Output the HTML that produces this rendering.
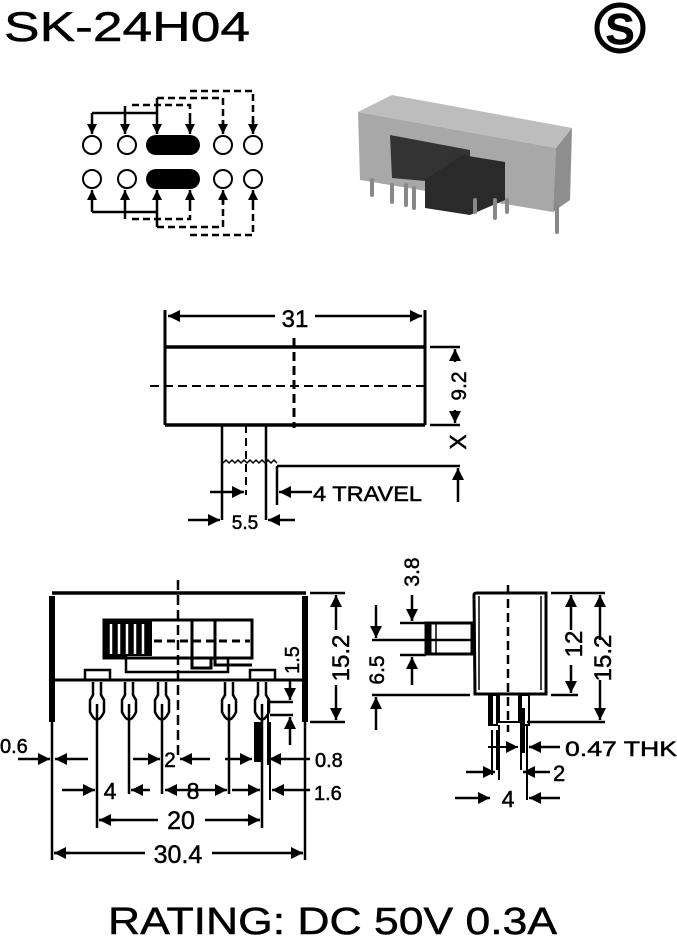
<!DOCTYPE html>
<html><head><meta charset="utf-8"><style>
html,body{margin:0;padding:0;background:#fff}
svg{display:block}
text{font-family:"Liberation Sans",Arial,sans-serif;fill:#000;stroke:#000;stroke-width:0.5}
</style></head><body>
<svg width="677" height="940" viewBox="0 0 677 940" xmlns="http://www.w3.org/2000/svg">
<defs>
<marker id="a" viewBox="0 0 10 10" refX="10" refY="5" markerWidth="10" markerHeight="10" markerUnits="userSpaceOnUse" orient="auto-start-reverse">
<path d="M0,0L10,5L0,10z" fill="#000"/></marker>
<marker id="b" viewBox="0 0 10 10" refX="10" refY="5" markerWidth="12" markerHeight="12" markerUnits="userSpaceOnUse" orient="auto-start-reverse">
<path d="M0,0L10,5L0,10z" fill="#000"/></marker>
</defs>
<!-- title -->
<text x="4" y="41" font-size="42" textLength="246" lengthAdjust="spacingAndGlyphs">SK-24H04</text>
<circle cx="620" cy="28" r="23" fill="none" stroke="#000" stroke-width="5"/>
<text x="620" y="44" font-size="44" font-weight="bold" text-anchor="middle">S</text>

<!-- schematic -->
<g fill="none" stroke="#000" stroke-width="2">
<circle cx="92" cy="145" r="9"/><circle cx="127" cy="145" r="9"/>
<circle cx="223" cy="145" r="9"/><circle cx="253" cy="145" r="9"/>
<circle cx="92" cy="179" r="9"/><circle cx="127" cy="179" r="9"/>
<circle cx="223" cy="179" r="9"/><circle cx="253" cy="179" r="9"/>
</g>
<rect x="146" y="135" width="54" height="20" rx="10" fill="#000"/>
<rect x="146" y="169" width="54" height="20" rx="10" fill="#000"/>
<g stroke="#000" stroke-width="2.5" fill="none">
<path d="M92,113H157"/><path d="M92,113V134" marker-end="url(#a)"/>
<path d="M125,106V134" marker-end="url(#a)"/>
<path d="M157,98V134" marker-end="url(#a)"/>
<path d="M92,212H157"/><path d="M92,212V190" marker-end="url(#a)"/>
<path d="M125,219V190" marker-end="url(#a)"/>
<path d="M157,227V190" marker-end="url(#a)"/>
<g stroke-dasharray="7,4">
<path d="M132,105H190V125"/><path d="M157,98H223V125"/><path d="M190,91H253V125"/>
<path d="M132,219H190V200"/><path d="M157,227H223V200"/><path d="M190,235H253V200"/>
</g>
<path d="M190,120V134" marker-end="url(#a)"/><path d="M223,120V134" marker-end="url(#a)"/><path d="M253,120V134" marker-end="url(#a)"/>
<path d="M190,204V190" marker-end="url(#a)"/><path d="M223,204V190" marker-end="url(#a)"/><path d="M253,204V190" marker-end="url(#a)"/>
</g>

<!-- photo -->
<g>
<polygon points="358,112 392,95 572,128 556,148" fill="#bdbdbd"/>
<polygon points="358,112 556,148 553,212 360,180" fill="#a8a8a8"/>
<polygon points="556,148 572,128 570,200 553,212" fill="#8e8e8e"/>
<polygon points="390,135 470,150 470,185 392,178" fill="#333"/>
<polygon points="425,180 462,155 505,162 505,200 470,215 425,208" fill="#2a2a2a"/>
<g stroke="#888" stroke-width="4" stroke-linecap="round">
<path d="M372,180V195"/><path d="M392,185V202"/><path d="M406,185V205"/><path d="M414,188V208"/>
<path d="M475,200V212"/><path d="M495,200V218"/><path d="M507,200V212"/><path d="M557,205V232"/>
</g>
</g>

<!-- top view -->
<g stroke="#000" fill="none">
<path d="M165,310V425M425,310V425" stroke-width="3"/>
<path d="M165,347H425M165,425H425" stroke-width="3.5"/>
<path d="M170,316H275M315,316H420" stroke-width="2.5"/>
<path d="M180,316H168" stroke-width="2.5" marker-end="url(#b)"/>
<path d="M410,316H422" stroke-width="2.5" marker-end="url(#b)"/>
<path d="M150,386H430" stroke-width="2" stroke-dasharray="9,5"/>
<path d="M294,338V428" stroke-width="3" stroke-dasharray="9,5"/>
<path d="M222,425V520M266,425V520" stroke-width="2.5"/>
<path d="M246,425V495" stroke-width="2" stroke-dasharray="8,5"/>
<path d="M223,463l3,-3 3,3 3,-3 3,3 3,-3 3,3 3,-3 3,3 3,-3 3,3 3,-3 3,3 3,-3 3,3 3,-3 3,3 3,-3 3,3" stroke-width="1.5"/>
<path d="M277,466H460M277,466V505" stroke-width="2.5"/>
<path d="M430,347H460M430,425H460" stroke-width="2.5"/>
<path d="M455,362V349" stroke-width="2.5" marker-end="url(#b)"/>
<path d="M455,410V423" stroke-width="2.5" marker-end="url(#b)"/>
<path d="M458,502V468" stroke-width="2.5" marker-end="url(#b)"/>
<path d="M312,492H279" stroke-width="2.5" marker-end="url(#b)"/>
<path d="M210,492H244" stroke-width="2.5" marker-end="url(#b)"/>
<path d="M188,520H220" stroke-width="2.5" marker-end="url(#b)"/>
<path d="M295,520H268" stroke-width="2.5" marker-end="url(#b)"/>
</g>
<text x="295" y="327" font-size="24" text-anchor="middle">31</text>
<text transform="translate(466,386) rotate(-90)" font-size="21" text-anchor="middle">9.2</text>
<text transform="translate(466,442) rotate(-90)" font-size="23" text-anchor="middle">X</text>
<text x="313" y="501" font-size="21" textLength="109" lengthAdjust="spacingAndGlyphs">4 TRAVEL</text>
<text x="245" y="529" font-size="19" text-anchor="middle">5.5</text>

<!-- front view -->
<g stroke="#000" fill="none">
<path d="M52,593H306" stroke-width="3.5"/>
<path d="M52,596V722M305,596V722" stroke-width="6"/>
<path d="M52,680H305" stroke-width="3"/>
<rect x="104" y="620" width="148" height="38" stroke-width="3"/>
<rect x="104" y="620" width="48" height="36" fill="#000" stroke-width="0"/>
<path d="M111,624V654M119,624V654M127,624V654M135,624V654M143,624V654" stroke="#fff" stroke-width="2.5"/>
<path d="M192,621V668H211V658M215,621V665H252" stroke-width="3"/>
<path d="M104,657H126V672H228V658" stroke-width="2.5"/>
<path d="M154,641H250" stroke-width="3" stroke-dasharray="8,5"/>
<path d="M178,580V760" stroke-width="2.5" stroke-dasharray="10,5"/>
<path d="M85,680V670H110V680M250,680V670H275V680" stroke-width="2.5"/>
</g>
<g stroke="#000" stroke-width="2.5" fill="#fff">
<g transform="translate(97,0)"><path d="M-4,682V695L-7,700V712Q0,727 7,712V700L4,695V682"/><path d="M0,704V722"/></g>
<g transform="translate(129,0)"><path d="M-4,682V695L-7,700V712Q0,727 7,712V700L4,695V682"/><path d="M0,704V722"/></g>
<g transform="translate(162,0)"><path d="M-4,682V695L-7,700V712Q0,727 7,712V700L4,695V682"/><path d="M0,704V722"/></g>
<g transform="translate(229,0)"><path d="M-4,682V695L-7,700V712Q0,727 7,712V700L4,695V682"/><path d="M0,704V722"/></g>
<g transform="translate(262,0)"><path d="M-4,682V695L-7,700V712Q0,727 7,712V700L4,695V682"/><path d="M0,704V722"/></g>
</g>
<g stroke="#000" fill="none">
<path d="M97,722V828M129,722V794M162,722V794M229,722V794M262,722V828" stroke-width="2.5"/>
<rect x="254" y="722" width="8" height="40" fill="#000" stroke="none"/>
<path d="M52,722V860M305,722V860" stroke-width="2.5"/>
<path d="M268,700V765" stroke-width="2"/>
<path d="M270,702H293M270,715H293M310,722H345M310,593H345" stroke-width="2.5"/>
<path d="M290,680V700" stroke-width="2.5" marker-end="url(#b)"/>
<path d="M290,745V717" stroke-width="2.5" marker-end="url(#b)"/>
<path d="M336,630V595" stroke-width="2.5" marker-end="url(#b)"/>
<path d="M336,685V720" stroke-width="2.5" marker-end="url(#b)"/>
<path d="M18,759H50" stroke-width="2.5" marker-end="url(#b)"/>
<path d="M88,759H55" stroke-width="2.5" marker-end="url(#b)"/>
<path d="M133,759H160" stroke-width="2.5" marker-end="url(#b)"/>
<path d="M210,759H180" stroke-width="2.5" marker-end="url(#b)"/>
<path d="M225,759H252" stroke-width="2.5" marker-end="url(#b)"/>
<path d="M310,759H269" stroke-width="2.5" marker-end="url(#b)"/>
<path d="M270,722V800" stroke-width="2"/>
<path d="M62,790H95" stroke-width="2.5" marker-end="url(#b)"/>
<path d="M150,790H131" stroke-width="2.5" marker-end="url(#b)"/>
<path d="M165,790H227" stroke-width="2.5" marker-start="url(#b)" marker-end="url(#b)"/>
<path d="M232,790H260" stroke-width="2.5" marker-end="url(#b)"/>
<path d="M310,790H272" stroke-width="2.5" marker-end="url(#b)"/>
<path d="M99,820H158M205,820H260" stroke-width="2.5"/>
<path d="M115,820H99" stroke-width="2.5" marker-end="url(#b)"/>
<path d="M245,820H260" stroke-width="2.5" marker-end="url(#b)"/>
<path d="M54,853H145M212,853H303" stroke-width="2.5"/>
<path d="M70,853H54" stroke-width="2.5" marker-end="url(#b)"/>
<path d="M290,853H303" stroke-width="2.5" marker-end="url(#b)"/>
</g>
<text transform="translate(349,658) rotate(-90)" font-size="24" text-anchor="middle">15.2</text>
<text transform="translate(299,660) rotate(-90)" font-size="20" text-anchor="middle">1.5</text>
<text x="0" y="753" font-size="20">0.6</text>
<text x="170" y="767" font-size="21" text-anchor="middle">2</text>
<text x="315" y="767" font-size="20">0.8</text>
<text x="110" y="799" font-size="23" text-anchor="middle">4</text>
<text x="193" y="799" font-size="23" text-anchor="middle">8</text>
<text x="314" y="800" font-size="20">1.6</text>
<text x="181" y="829" font-size="25" text-anchor="middle">20</text>
<text x="178" y="863" font-size="25" text-anchor="middle">30.4</text>

<!-- side view -->
<g stroke="#000" fill="none">
<path d="M474,595Q474,593 477,593H546V694H475z" stroke-width="3"/>
<path d="M479,596V690M541,596V690" stroke-width="1.5"/>
<rect x="426" y="623" width="46" height="31" stroke-width="3"/>
<path d="M429,623V654" stroke-width="5"/>
<path d="M436,623V654" stroke-width="1.5"/>
<path d="M442,640H472" stroke-width="2" stroke-dasharray="7,4"/>
<path d="M508,585V732" stroke-width="2.5" stroke-dasharray="9,5"/>
<rect x="489" y="695" width="8" height="30" stroke-width="2"/>
<rect x="521" y="695" width="8" height="30" stroke-width="2"/>
<rect x="489" y="695" width="4" height="30" fill="#000" stroke="none"/>
<rect x="521" y="708" width="4" height="45" fill="#000" stroke="none"/>
<path d="M499,695V722H519V695" stroke-width="2"/>
<path d="M551,593H605M551,695H578M527,722H605" stroke-width="2.5"/>
<path d="M571,630V595" stroke-width="2.5" marker-end="url(#b)"/>
<path d="M571,665V693" stroke-width="2.5" marker-end="url(#b)"/>
<path d="M600,640V595" stroke-width="2.5" marker-end="url(#b)"/>
<path d="M600,680V720" stroke-width="2.5" marker-end="url(#b)"/>
<path d="M400,623H426M400,655H426M372,640H470M372,695H470" stroke-width="2.5"/>
<path d="M412,595V621" stroke-width="2.5" marker-end="url(#b)"/>
<path d="M412,685V657" stroke-width="2.5" marker-end="url(#b)"/>
<path d="M376,605V638" stroke-width="2.5" marker-end="url(#b)"/>
<path d="M376,730V697" stroke-width="2.5" marker-end="url(#b)"/>
<path d="M492,730V775M497,730V770M521,725V770M527,725V800M499,725V780" stroke-width="2"/>
<path d="M488,747H518" stroke-width="2" marker-end="url(#b)"/>
<path d="M560,747H529" stroke-width="2.5" marker-end="url(#b)"/>
<path d="M466,772H495" stroke-width="2.5" marker-end="url(#b)"/>
<path d="M550,772H523" stroke-width="2.5" marker-end="url(#b)"/>
<path d="M455,798H490" stroke-width="2.5" marker-end="url(#b)"/>
<path d="M560,798H529" stroke-width="2.5" marker-end="url(#b)"/>
</g>
<text transform="translate(419,572) rotate(-90)" font-size="21" text-anchor="middle">3.8</text>
<text transform="translate(384,670) rotate(-90)" font-size="21" text-anchor="middle">6.5</text>
<text transform="translate(582,644) rotate(-90)" font-size="24" text-anchor="middle">12</text>
<text transform="translate(611,658) rotate(-90)" font-size="24" text-anchor="middle">15.2</text>
<text x="565" y="756" font-size="21" textLength="112" lengthAdjust="spacingAndGlyphs">0.47 THK</text>
<text x="553" y="781" font-size="22">2</text>
<text x="508" y="807" font-size="23" text-anchor="middle">4</text>

<text x="108" y="934" font-size="38" textLength="449" lengthAdjust="spacingAndGlyphs">RATING: DC 50V 0.3A</text>
</svg>
</body></html>
